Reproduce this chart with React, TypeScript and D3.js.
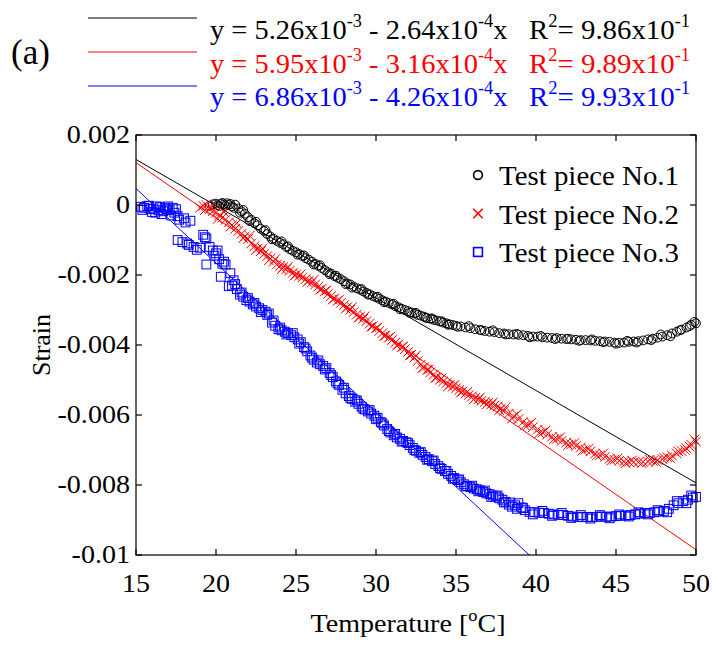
import React from 'react';
import * as d3 from 'd3';

const W = 712;
const H = 646;
const FONT = '"Liberation Serif", "Times New Roman", serif';

// axes
const xDomain = [15, 50];
const yDomain = [-10, 2]; // strain in units of 1e-3
const xTicks = [15, 20, 25, 30, 35, 40, 45, 50];
const yTicks = [2, 0, -2, -4, -6, -8, -10];
const yTickLabels = ['0.002', '0', '-0.002', '-0.004', '-0.006', '-0.008', '-0.01'];

// linear fits: strain(1e-3) = a + b*T
const fitIntercepts = [5.26, 5.95, 6.86];
const fitSlopes = [-0.264, -0.316, -0.426];
const fitA = ['5.26', '5.95', '6.86'];
const fitB = ['2.64', '3.16', '4.26'];
const fitR2 = ['9.86', '9.89', '9.93'];
const seriesNames = ['Test piece No.1', 'Test piece No.2', 'Test piece No.3'];
const seriesColors = ['#000000', '#ff0000', '#0000ff'];

// Test piece No.1 (temperature °C, strain 1e-3)
const piece1: [number, number][] = [
  [19.6, -0.02], [19.8, 0.02], [20.0, 0.04], [20.2, -0.03], [20.4, 0.06], [20.5, 0.02], [20.7, 0.05],
  [20.9, 0.03], [21.0, -0.04], [21.2, 0.01], [21.4, -0.10], [21.6, -0.18], [21.8, -0.25], [22.0, -0.35],
  [22.2, -0.42], [22.4, -0.52], [22.6, -0.58], [22.8, -0.68], [23.0, -0.74], [23.2, -0.83], [23.4, -0.90],
  [23.6, -0.96], [23.8, -1.02], [24.0, -1.08], [24.2, -1.12], [24.4, -1.20], [24.6, -1.26], [24.8, -1.31],
  [25.0, -1.35], [25.2, -1.40], [25.4, -1.46], [25.6, -1.52], [25.8, -1.56], [26.0, -1.62], [26.2, -1.68],
  [26.4, -1.74], [26.6, -1.80], [26.8, -1.86], [27.0, -1.92], [27.2, -1.96], [27.4, -2.03], [27.6, -2.08],
  [27.8, -2.12], [28.0, -2.18], [28.2, -2.24], [28.4, -2.27], [28.6, -2.33], [28.8, -2.38], [29.0, -2.42],
  [29.2, -2.47], [29.4, -2.51], [29.6, -2.55], [29.8, -2.60], [30.0, -2.64], [30.2, -2.68], [30.4, -2.72],
  [30.6, -2.76], [30.8, -2.80], [31.0, -2.84], [31.2, -2.89], [31.4, -2.92], [31.6, -2.96], [31.8, -3.00],
  [32.0, -3.03], [32.2, -3.07], [32.4, -3.10], [32.6, -3.14], [32.8, -3.16], [33.0, -3.19], [33.2, -3.23],
  [33.4, -3.25], [33.6, -3.28], [33.8, -3.30], [34.0, -3.33], [34.2, -3.36], [34.4, -3.38], [34.6, -3.41],
  [34.8, -3.43], [35.0, -3.45], [35.3, -3.47], [35.6, -3.50], [35.9, -3.52], [36.2, -3.55], [36.5, -3.57],
  [36.8, -3.60], [37.1, -3.62], [37.4, -3.63], [37.7, -3.66], [38.0, -3.67], [38.3, -3.69], [38.6, -3.70],
  [38.9, -3.71], [39.2, -3.72], [39.5, -3.74], [39.8, -3.76], [40.1, -3.76], [40.4, -3.78], [40.7, -3.79],
  [41.0, -3.80], [41.3, -3.80], [41.6, -3.82], [41.9, -3.83], [42.2, -3.84], [42.5, -3.85], [42.8, -3.86],
  [43.1, -3.86], [43.4, -3.87], [43.7, -3.88], [44.0, -3.89], [44.3, -3.90], [44.6, -3.91], [44.9, -3.93],
  [45.2, -3.94], [45.5, -3.93], [45.8, -3.91], [46.1, -3.90], [46.4, -3.89], [46.7, -3.87], [47.0, -3.84],
  [47.3, -3.82], [47.6, -3.79], [47.9, -3.76], [48.2, -3.72], [48.5, -3.67], [48.8, -3.62], [49.1, -3.56],
  [49.4, -3.50], [49.7, -3.42], [50.0, -3.38],
  [20.1, 0.0], [20.3, 0.03], [20.6, -0.02], [20.8, 0.0], [21.1, -0.08], [21.5, -0.22], [21.7, -0.14],
  [22.1, -0.46], [22.5, -0.48], [23.1, -0.72], [23.5, -0.98], [24.1, -1.04], [24.5, -1.18], [25.1, -1.42],
  [25.5, -1.44], [26.1, -1.70], [26.5, -1.72], [27.1, -1.98], [27.5, -2.02], [28.1, -2.26], [28.5, -2.36],
  [29.1, -2.40], [29.5, -2.56], [30.1, -2.62], [30.5, -2.78], [31.1, -2.82], [31.5, -2.98], [32.1, -3.08],
  [32.5, -3.08], [33.1, -3.22], [33.5, -3.24], [34.1, -3.32], [34.5, -3.42], [35.1, -3.48], [35.8, -3.46],
  [36.6, -3.58], [37.3, -3.58], [38.1, -3.70], [38.8, -3.68], [39.6, -3.78], [40.3, -3.74], [41.2, -3.83],
  [42.0, -3.82], [42.7, -3.88], [43.5, -3.84], [44.2, -3.92], [45.0, -3.96], [45.7, -3.88], [46.3, -3.93],
  [47.2, -3.86], [47.8, -3.70], [48.4, -3.75], [49.0, -3.58], [49.6, -3.46], [49.9, -3.34],
];

// Test piece No.2
const piece2: [number, number][] = [
  [19.0, -0.08], [19.2, -0.02], [19.4, 0.00], [19.6, -0.12], [19.8, -0.18], [20.0, -0.22], [20.2, -0.30],
  [20.4, -0.36], [20.6, -0.42], [20.8, -0.50], [21.0, -0.57], [21.2, -0.68], [21.4, -0.74], [21.6, -0.82],
  [21.8, -0.90], [22.0, -0.97], [22.2, -1.10], [22.4, -1.18], [22.6, -1.25], [22.8, -1.32], [23.0, -1.40],
  [23.2, -1.46], [23.4, -1.53], [23.6, -1.62], [23.8, -1.70], [24.0, -1.74], [24.2, -1.78], [24.4, -1.83],
  [24.6, -1.88], [24.8, -1.94], [25.0, -1.99], [25.2, -2.03], [25.4, -2.07], [25.6, -2.12], [25.8, -2.16],
  [26.0, -2.21], [26.2, -2.27], [26.4, -2.33], [26.6, -2.40], [26.8, -2.47], [27.0, -2.54], [27.2, -2.60],
  [27.4, -2.67], [27.6, -2.74], [27.8, -2.80], [28.0, -2.86], [28.2, -2.92], [28.4, -2.99], [28.6, -3.06],
  [28.8, -3.13], [29.0, -3.19], [29.2, -3.25], [29.4, -3.32], [29.6, -3.39], [29.8, -3.46], [30.0, -3.52],
  [30.2, -3.60], [30.4, -3.66], [30.6, -3.73], [30.8, -3.79], [31.0, -3.86], [31.2, -3.93], [31.4, -3.99],
  [31.6, -4.06], [31.8, -4.12], [32.0, -4.20], [32.2, -4.28], [32.4, -4.36], [32.6, -4.46], [32.8, -4.56],
  [33.0, -4.64], [33.2, -4.71], [33.4, -4.78], [33.6, -4.85], [33.8, -4.93], [34.0, -4.99], [34.2, -5.04],
  [34.4, -5.09], [34.6, -5.14], [34.8, -5.19], [35.0, -5.24], [35.2, -5.29], [35.4, -5.33], [35.6, -5.38],
  [35.8, -5.43], [36.0, -5.47], [36.2, -5.51], [36.4, -5.55], [36.6, -5.59], [36.8, -5.63], [37.0, -5.66],
  [37.2, -5.70], [37.4, -5.73], [37.6, -5.76], [37.8, -5.82], [38.0, -5.88], [38.3, -5.96], [38.6, -6.04],
  [38.9, -6.12], [39.2, -6.20], [39.5, -6.28], [39.8, -6.35], [40.1, -6.42], [40.4, -6.50], [40.7, -6.56],
  [41.0, -6.62], [41.3, -6.68], [41.6, -6.74], [41.9, -6.79], [42.2, -6.84], [42.5, -6.88], [42.8, -6.93],
  [43.1, -6.99], [43.4, -7.04], [43.7, -7.10], [44.0, -7.15], [44.3, -7.20], [44.6, -7.25], [44.9, -7.28],
  [45.2, -7.31], [45.5, -7.33], [45.8, -7.34], [46.1, -7.35], [46.4, -7.35], [46.7, -7.34], [47.0, -7.33],
  [47.3, -7.31], [47.6, -7.29], [47.9, -7.26], [48.2, -7.21], [48.5, -7.16], [48.8, -7.10], [49.1, -7.03],
  [49.4, -6.95], [49.7, -6.85], [50.0, -6.76],
  [19.3, -0.15], [19.7, -0.05], [20.1, -0.40], [20.5, -0.20], [20.9, -0.62], [21.3, -0.52], [21.7, -0.95],
  [22.1, -0.88], [22.5, -1.28], [22.9, -1.24], [23.3, -1.58], [23.7, -1.55], [24.1, -1.84], [24.5, -1.76],
  [24.9, -2.02], [25.3, -1.98], [25.7, -2.20], [26.1, -2.14], [26.5, -2.42], [26.9, -2.44], [27.3, -2.70],
  [27.7, -2.70], [28.1, -2.96], [28.5, -2.92], [28.9, -3.22], [29.3, -3.18], [29.7, -3.48], [30.1, -3.50],
  [30.5, -3.74], [30.9, -3.76], [31.3, -4.02], [31.7, -4.04], [32.1, -4.30], [32.5, -4.30], [32.9, -4.66],
  [33.3, -4.70], [33.7, -4.94], [34.1, -4.96], [34.5, -5.18], [34.9, -5.14], [35.3, -5.36], [35.7, -5.34],
  [36.1, -5.56], [36.5, -5.50], [36.9, -5.70], [37.3, -5.64], [37.7, -5.86], [38.1, -5.78], [38.5, -6.10],
  [38.8, -5.98], [39.3, -6.30], [39.7, -6.22], [40.2, -6.52], [40.6, -6.44], [41.1, -6.70], [41.5, -6.64],
  [42.0, -6.86], [42.4, -6.80], [42.9, -7.02], [43.3, -6.96], [43.8, -7.16], [44.2, -7.10], [44.7, -7.30],
  [45.1, -7.24], [45.6, -7.38], [46.0, -7.30], [46.6, -7.38], [47.1, -7.28], [47.5, -7.34], [48.0, -7.22],
  [48.4, -7.24], [48.9, -7.04], [49.3, -7.00], [49.6, -6.90], [49.9, -6.70],
];

// Test piece No.3
const piece3: [number, number][] = [
  [15.3, -0.05], [15.5, -0.08], [15.7, -0.03], [15.9, -0.12], [16.1, -0.10], [16.2, -0.22], [16.4, -0.15],
  [16.5, -0.06], [16.7, -0.18], [16.9, -0.12], [17.0, -0.04], [17.1, -0.15], [17.3, -0.08], [17.4, -0.22],
  [17.6, -0.32], [17.7, -0.42], [17.6, -1.00], [17.9, -1.06], [18.1, -0.50], [18.2, -1.10], [18.4, -0.45],
  [18.6, -1.20], [18.8, -1.28], [19.2, -0.85], [19.4, -0.96], [19.4, -1.70], [19.6, -1.20], [19.8, -1.30],
  [20.0, -1.38], [20.2, -1.55], [20.3, -2.05], [20.5, -1.62], [20.6, -1.70], [20.8, -2.32], [20.9, -1.95],
  [21.1, -2.15], [21.3, -2.40], [21.5, -2.56], [21.7, -2.62], [21.9, -2.72], [22.1, -2.76], [22.3, -2.84],
  [22.5, -2.90], [22.7, -2.95], [22.9, -3.00], [23.1, -3.05], [23.3, -3.10], [23.5, -3.36], [23.7, -3.45],
  [23.9, -3.55], [24.1, -3.58], [24.3, -3.62], [24.5, -3.66], [24.7, -3.72], [24.9, -3.78], [25.1, -3.84],
  [25.3, -3.92], [25.5, -4.06], [25.7, -4.18], [25.9, -4.30], [26.1, -4.42], [26.3, -4.50], [26.5, -4.55],
  [26.7, -4.60], [26.9, -4.66], [27.1, -4.80], [27.3, -4.92], [27.5, -5.04], [27.7, -5.14], [27.9, -5.28],
  [28.1, -5.38], [28.3, -5.46], [28.5, -5.54], [28.7, -5.62], [28.9, -5.68], [29.1, -5.76], [29.3, -5.84],
  [29.5, -5.90], [29.7, -5.96], [29.9, -6.02], [30.1, -6.08], [30.3, -6.20], [30.5, -6.30], [30.7, -6.40],
  [30.9, -6.50], [31.1, -6.58], [31.3, -6.64], [31.5, -6.68], [31.7, -6.74], [31.9, -6.78], [32.1, -6.86],
  [32.3, -6.94], [32.5, -7.02], [32.7, -7.08], [32.9, -7.14], [33.1, -7.20], [33.3, -7.26], [33.5, -7.32],
  [33.7, -7.40], [33.9, -7.46], [34.1, -7.54], [34.3, -7.60], [34.5, -7.68], [34.7, -7.74], [34.9, -7.80],
  [35.1, -7.86], [35.3, -7.92], [35.5, -7.98], [35.7, -8.03], [35.9, -8.06], [36.1, -8.10], [36.3, -8.12],
  [36.5, -8.15], [36.7, -8.20], [36.9, -8.24], [37.1, -8.26], [37.3, -8.30], [37.5, -8.33], [37.7, -8.38],
  [37.9, -8.42], [38.1, -8.48], [38.3, -8.56], [38.5, -8.62], [38.7, -8.58], [38.9, -8.52], [39.1, -8.64],
  [39.3, -8.72], [39.6, -8.77], [39.9, -8.78], [40.2, -8.79], [40.5, -8.80], [40.8, -8.82], [41.1, -8.84],
  [41.4, -8.85], [41.7, -8.86], [42.0, -8.88], [42.3, -8.90], [42.6, -8.91], [42.9, -8.92], [43.2, -8.91],
  [43.5, -8.92], [43.8, -8.91], [44.1, -8.90], [44.4, -8.91], [44.7, -8.90], [45.0, -8.89], [45.3, -8.88],
  [45.6, -8.87], [45.9, -8.86], [46.2, -8.84], [46.5, -8.82], [46.8, -8.80], [47.1, -8.80], [47.4, -8.78],
  [47.7, -8.76], [48.0, -8.74], [48.3, -8.68], [48.6, -8.58], [48.9, -8.52], [49.2, -8.46], [49.5, -8.42],
  [49.8, -8.36], [50.0, -8.34],
  [15.4, -0.14], [15.8, -0.02], [16.0, -0.20], [16.3, -0.04], [16.6, -0.26], [16.8, -0.08], [17.2, -0.30],
  [17.5, -0.12], [18.0, -0.38], [18.3, -1.14], [19.0, -1.22], [19.3, -0.92], [19.9, -1.45], [20.1, -1.30],
  [20.4, -1.68], [21.0, -2.30], [21.2, -2.26], [21.6, -2.50], [22.0, -2.66], [22.4, -2.80], [22.8, -3.06],
  [23.2, -3.14], [23.6, -3.30], [24.0, -3.50], [24.4, -3.70], [24.8, -3.66], [25.2, -3.96], [25.6, -4.10],
  [26.0, -4.36], [26.4, -4.44], [26.8, -4.70], [27.2, -4.86], [27.6, -5.10], [28.0, -5.22], [28.4, -5.52],
  [28.8, -5.58], [29.2, -5.82], [29.6, -5.86], [30.0, -6.12], [30.4, -6.24], [30.8, -6.46], [31.2, -6.54],
  [31.6, -6.76], [32.0, -6.80], [32.4, -7.00], [32.8, -7.06], [33.2, -7.28], [33.6, -7.30], [34.0, -7.52],
  [34.4, -7.60], [34.8, -7.82], [35.2, -7.84], [35.6, -8.04], [36.0, -8.02], [36.4, -8.18], [36.8, -8.16],
  [37.2, -8.34], [37.6, -8.30], [38.0, -8.50], [38.4, -8.50], [38.8, -8.68], [39.2, -8.66], [39.8, -8.84],
  [40.4, -8.74], [41.0, -8.88], [41.6, -8.80], [42.2, -8.94], [42.8, -8.86], [43.4, -8.96], [44.0, -8.86],
  [44.6, -8.95], [45.2, -8.84], [45.8, -8.90], [46.4, -8.78], [47.0, -8.84], [47.6, -8.72], [48.2, -8.78],
  [48.8, -8.46], [49.4, -8.52], [49.7, -8.30],
];

const pieces = [piece1, piece2, piece3];

const M = { left: 136, right: 696, top: 135, bottom: 555 };

const x = d3.scaleLinear().domain(xDomain).range([M.left, M.right]);
const y = d3.scaleLinear().domain(yDomain).range([M.bottom, M.top]);

function Marker({ kind, color, cx, cy, s = 1, sw = 1 }: { kind: number; color: string; cx: number; cy: number; s?: number; sw?: number }) {
  if (kind === 0) return <circle cx={cx} cy={cy} r={4.4 * s} fill="none" stroke={color} strokeWidth={sw} />;
  if (kind === 1) {
    const d = 4.8 * s;
    return (
      <path d={`M${cx - d},${cy - d}L${cx + d},${cy + d}M${cx - d},${cy + d}L${cx + d},${cy - d}`} stroke={color} strokeWidth={sw} fill="none" />
    );
  }
  const h = 4.4 * s;
  return <rect x={cx - h} y={cy - h} width={2 * h} height={2 * h} fill="none" stroke={color} strokeWidth={sw} />;
}

function ST({ x0, y0, sx = 1.08, size = 26, anchor = 'start', fill = '#000', children }: any) {
  return (
    <text transform={`translate(${x0},${y0}) scale(${sx},1)`} fontSize={size} fontFamily={FONT} textAnchor={anchor} fill={fill}>
      {children}
    </text>
  );
}

export default function App() {
  const tick = 6;
  const supSize = 18;
  const supDy = 12;
  return (
    <svg width={W} height={H} viewBox={`0 0 ${W} ${H}`} style={{ position: 'absolute', left: 0, top: 0, background: '#fff' }}>
      <defs>
        <clipPath id="plot">
          <rect x={M.left} y={M.top} width={M.right - M.left} height={M.bottom - M.top} />
        </clipPath>
      </defs>
      <rect width={W} height={H} fill="#fff" />

      {/* fit lines */}
      <g clipPath="url(#plot)">
        {fitIntercepts.map((a, i) => (
          <line key={i} x1={x(xDomain[0])} y1={y(a + fitSlopes[i] * xDomain[0])} x2={x(xDomain[1])} y2={y(a + fitSlopes[i] * xDomain[1])}
            stroke={seriesColors[i]} strokeWidth={1} />
        ))}
      </g>

      {/* markers */}
      <g>
        {pieces.map((pts, i) => (
          <g key={i}>
            {pts.map((p, j) => (
              <Marker key={j} kind={i} color={seriesColors[i]} cx={x(p[0])} cy={y(p[1])} />
            ))}
          </g>
        ))}
      </g>

      {/* frame */}
      <rect x={M.left} y={M.top} width={M.right - M.left} height={M.bottom - M.top} fill="none" stroke="#000" strokeWidth={1.2} />
      {xTicks.map((t) => (
        <g key={t}>
          <line x1={x(t)} x2={x(t)} y1={M.bottom} y2={M.bottom - tick} stroke="#000" strokeWidth={1.2} />
          <line x1={x(t)} x2={x(t)} y1={M.top} y2={M.top + tick} stroke="#000" strokeWidth={1.2} />
          <ST x0={x(t)} y0={M.bottom + 37} anchor="middle">{t}</ST>
        </g>
      ))}
      {yTicks.map((t, i) => (
        <g key={t}>
          <line x1={M.left} x2={M.left + tick} y1={y(t)} y2={y(t)} stroke="#000" strokeWidth={1.2} />
          <line x1={M.right} x2={M.right - tick} y1={y(t)} y2={y(t)} stroke="#000" strokeWidth={1.2} />
          <ST x0={130} y0={y(t) + 8} anchor="end">{yTickLabels[i]}</ST>
        </g>
      ))}

      {/* axis titles */}
      <ST x0={408} y0={632} anchor="middle">
        Temperature [<tspan fontSize={17} dy={-11}>o</tspan><tspan dy={11}>C]</tspan>
      </ST>
      <text transform={`translate(50,345) rotate(-90)`} fontSize={26} fontFamily={FONT} textAnchor="middle">Strain</text>

      {/* panel label */}
      <ST x0={11} y0={64} size={35} sx={1.0}>(a)</ST>

      {/* fit legend */}
      {fitA.map((a, i) => {
        const ly = 18 + i * 34;
        const by = 39 + i * 33.5;
        return (
          <g key={i}>
            <line x1={88} x2={197} y1={ly} y2={ly} stroke={seriesColors[i]} strokeWidth={1} />
            <ST x0={210} y0={by} size={28} sx={1.015} fill={seriesColors[i]}>
              {`y = ${a}x10`}<tspan fontSize={supSize} dy={-supDy}>-3</tspan>
              <tspan dy={supDy}>{` - ${fitB[i]}x10`}</tspan><tspan fontSize={supSize} dy={-supDy}>-4</tspan>
              <tspan dy={supDy}>x</tspan>
            </ST>
            <ST x0={529} y0={by} size={28} sx={1.03} fill={seriesColors[i]}>
              R<tspan fontSize={supSize} dy={-supDy}>2</tspan>
              <tspan dy={supDy}>{`= ${fitR2[i]}x10`}</tspan><tspan fontSize={supSize} dy={-supDy}>-1</tspan>
            </ST>
          </g>
        );
      })}

      {/* series legend */}
      {seriesNames.map((n, i) => {
        const by = 185 + i * 38.5;
        return (
          <g key={n}>
            <Marker kind={i} color={seriesColors[i]} cx={478} cy={by - 10} s={1.0} sw={1.6} />
            <ST x0={499} y0={by} size={27} sx={1.07}>{n}</ST>
          </g>
        );
      })}
    </svg>
  );
}
